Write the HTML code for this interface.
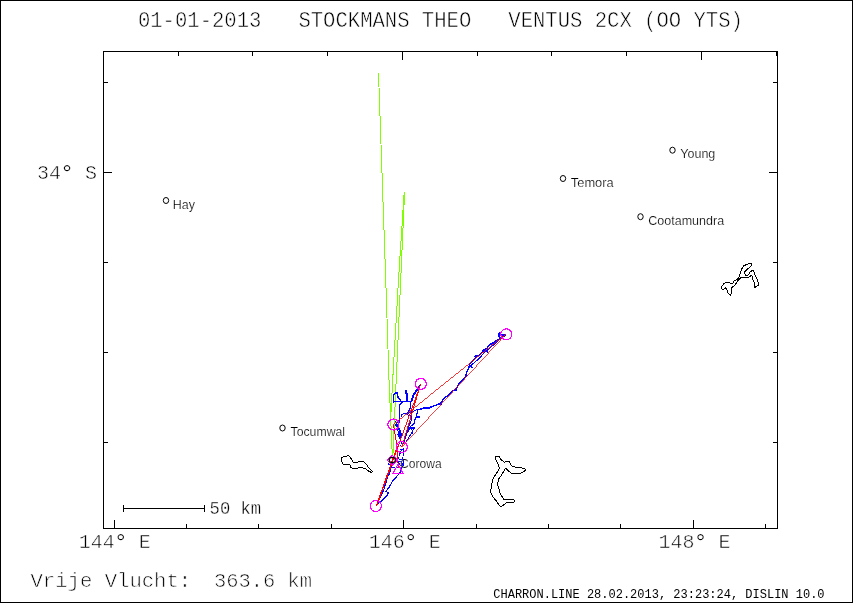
<!DOCTYPE html>
<html lang="nl">
<head>
<meta charset="utf-8">
<title>Vrije Vlucht 01-01-2013 STOCKMANS THEO</title>
<style>
html,body{margin:0;padding:0;background:#fff;}
body{width:853px;height:603px;overflow:hidden;position:relative;}
svg{position:absolute;left:0;top:0;display:block;will-change:transform;}
.mono{font-family:"Liberation Mono",monospace;fill:#000;stroke:#fff;stroke-width:.55px;}
.sans{font-family:"Liberation Sans",sans-serif;fill:#000;stroke:#fff;stroke-width:.2px;}
.k{fill:none;stroke:#000;stroke-width:1;}
.g{fill:none;stroke:#7fff00;stroke-width:1;}
.r{fill:none;stroke:#f00;stroke-width:1;}
.b{fill:none;stroke:#00f;stroke-width:1.05;stroke-linejoin:bevel;}
.m{fill:none;stroke:#f0f;stroke-width:1.2;}
</style>
</head>
<body>
<svg width="853" height="603" viewBox="0 0 853 603">
<rect x="0.5" y="0.5" width="852" height="602" fill="none" stroke="#000" stroke-width="1" shape-rendering="crispEdges"/>

<g class="k" shape-rendering="crispEdges"><path d="M103.5 51.5 H777.5 V528.5 H103.5 Z"/><path d="M114.5 528.5 v-8.5 M186.5 528.5 v-4.5 M258.5 528.5 v-4.5 M331.5 528.5 v-4.5 M403.5 528.5 v-8.5 M476.5 528.5 v-4.5 M548.5 528.5 v-4.5 M620.5 528.5 v-4.5 M693.5 528.5 v-8.5 M765.5 528.5 v-4.5 M178.5 51.5 v4.5 M252.5 51.5 v4.5 M327.5 51.5 v4.5 M402.5 51.5 v8.5 M477.5 51.5 v4.5 M551.5 51.5 v4.5 M626.5 51.5 v4.5 M701.5 51.5 v8.5 M776.5 51.5 v4.5 M103.5 82.5 h4.5 M777.5 82.5 h-4.5 M103.5 172.5 h8.5 M777.5 172.5 h-8.5 M103.5 262.5 h4.5 M777.5 262.5 h-4.5 M103.5 352.5 h4.5 M777.5 352.5 h-4.5 M103.5 442.5 h4.5 M777.5 442.5 h-4.5"/>
<path d="M123.5 508.5 H204.5 M123.5 505 V512 M204.5 505 V512"/></g>
<g class="k" shape-rendering="crispEdges" stroke-linejoin="round">
<path d="M721.1 287.2 L724 283.4 L726.2 282.4 L729.2 282.4 L730.8 283.4 L732.8 283.4 L733.4 281.5 L734.8 280.4 L737.4 279.3 L738.9 277.4 L740 274.4 L741.1 270.7 L742.2 268.1 L743.7 265.8 L747.1 264.3 L749.3 263.4 L751.7 263.4 L751.7 265.4 L750.1 266.9 L747.8 268.8 L744.9 271.4 L744.7 273.7 L745.4 275.1 L747.5 275.3 L749 274 L750.1 271.8 L752.3 270.5 L753.4 271 L754.6 273.7 L756 277 L757.7 280.4 L758.7 285.2 L756.8 286.3 L754.6 287.5 L754.2 284.9 L754.2 282.6 L752.7 278.9 L751.9 275.5 L750.8 275.9 L749 277 L744.9 277.4 L741.1 277.4 L738.9 279.6 L736.6 282.2 L735.5 284.5 L731.8 287.8 L731.4 292.3 L730.7 295.7 L727.7 292.7 L726.9 289.7 L725.4 287.5 L723.2 289.5 L722.1 289.3 Z"/>
<path d="M347.9 455.1 L350.3 457.5 L351.6 459.1 L352.7 462 L353.5 462.3 L357.7 462.3 L358.5 461.5 L362.7 461.5 L364.8 462.5 L367.2 465.4 L367.7 466.7 L372.5 471.5 L371.7 472.8 L369.6 471.5 L367.2 470.4 L365.6 468.6 L363 468.3 L362.4 467.5 L358.2 467.5 L357.7 468.6 L353.2 468.6 L350.8 467.3 L350 464.6 L343.4 464.6 L342.1 462.2 L341.2 460.4 L341.3 458.3 L342.4 457.4 L344.5 456.4 L346.9 456.2 Z"/>
<path d="M495.3 457 L497.3 456.2 L499.2 456.7 L501.5 460.3 L504.5 462.1 L506.6 461.3 L509.2 461.3 L510.7 464.4 L512.3 466.5 L515.9 467.3 L520 467.7 L524.1 468.5 L525.9 469.8 L524.1 471.6 L520 473.5 L515.9 473.1 L512 473.7 L509.2 471.6 L506.1 468.5 L505.1 468.7 L503.5 471.6 L501.5 475.2 L498.9 478.8 L497.3 484 L498.9 488.6 L500.4 494.2 L504 499.4 L513.8 499.6 L514.8 500.9 L513.8 502.5 L506.6 502.7 L503.5 505 L500.9 506.6 L499.4 505.6 L496.3 500.9 L492.7 496.8 L490.3 491.7 L491.4 488.1 L492.4 480.3 L494.3 476.7 L497.3 472.1 L499.4 468 L497.9 463.4 L495.3 458.7 Z"/>
</g>
<g class="g" shape-rendering="crispEdges">
<path d="M378.5 73 L385.75 280 L389 380 L392.3 455.5"/>
<path d="M404.6 192 L400.7 280 L396.2 380 L392.9 455.5"/>
<path d="M404.2 192 L398.5 280 L392.7 380 L390.6 420"/>
</g>
<g class="b" shape-rendering="crispEdges">
<path d="M393.5 402.7 L393.5 395.2 L394.5 394.2 L396.5 392.2 L397.5 394 L397.5 396.4 L399.4 398.9 L400.9 401.2" style="stroke-width:1.5"/>
<path d="M393.5 401.7 L411.4 401.7"/>
<path d="M407.2 401.4 L406.9 394 L405.7 393.2 L405.4 391.5 L406.4 390.2 L406.9 394" style="stroke-width:1.5"/>
<path d="M411.4 401.7 L412.9 395.4 L414.9 392.5 L416.9 389.5 L418.3 387.5 L420.3 385.7" style="stroke-width:1.4"/>
<path d="M411.9 401.7 L413.4 395.9 L415.4 393 L417.4 390 L420.3 385.7"/>
<path d="M402.4 402.2 L399.7 404.9 L399.4 413.9"/>
<path d="M410.6 401.7 L410.6 407.9 L409.4 408.9 L407.9 412.9"/>
<path d="M399.4 404 L399.4 420.4 L398.7 423.9"/>
<path d="M419.8 409.2 L418.3 409.2 L414.9 410.5 L411.4 412 L407.9 413.2 L403.9 413.7 L401.4 414.7 L401.2 416.9"/>
<path d="M418.3 408.5 L417.4 412 L416.4 415.9 L414.9 419.9 L414.9 422.9 L411.9 425.4 L409.4 427.4 L412.9 430.9 L412.4 433.9"/>
<path d="M414.9 417.2 L419.8 417.2"/>
<path d="M414.9 417.7 L418.8 417.7"/>
<path d="M408.4 427.9 L414.9 427.9"/>
<path d="M408.9 428.4 L414.4 428.4"/>
<path d="M410.9 404 L409.9 409 L408.4 412.5 L407.9 414.9 L411.9 415.9 L411.4 420.4 L409.9 423.9 L407.9 428.9 L406.9 432.9"/>
<path d="M396 420.9 L399.4 420.9 L395 424.9 L397.5 426.4 L399.4 429.9 L400.9 432.9"/>
<path d="M395.5 421.4 L398 425.9 L399.9 429.9 L399.4 432.9"/>
<path d="M395 424.9 L398.4 423.9 L398 427.4"/>
<path d="M397.5 426.4 L399.4 429.9 L400.9 432.9 L398.7 433.1 L397 427.4"/>
<path d="M415.9 416.7 L419.8 416.7"/>
<path d="M408.9 427.4 L414.9 427.4 L414.4 428.9 L408.9 428.6"/>
<path d="M506.2 334.5 L501.8 335 L499.3 332.5 L498.8 336.4 L501.3 337.9 L494.8 341.4 L492.8 343.4 L489.8 344.4 L486.8 348.4 L483.9 349.9 L481.9 352.4 L478.4 355.8 L474.4 356.3 L475.9 357.8 L470.9 362.3 L469.4 364.8 L468.9 367.3 L466.9 371.8 L465.4 376.7 L459 383.7" style="stroke-width:1.4"/>
<path d="M505.7 335 L496.8 341.9 L487.8 349.9 L487.3 352.4 L486.3 350.4 L478.9 358.8 L469.9 366.3 L472.9 367.3 L469.9 366.8"/>
<path d="M500.3 334.5 L504.8 334.5 L501.8 336.4 L500.3 335"/>
<path d="M474.4 356.3 L477.9 356.6 L475.9 358"/>
<path d="M492.3 342.9 L494.8 341.9 L493.3 343.9"/>
<path d="M483.4 349.9 L484.9 351.1 L482.4 351.7"/>
<path d="M467.7 375 L463.7 379 L459.8 382.5 L456.8 387.4 L455.3 389.9 L451.8 391.4 L447.8 395.4 L443.8 398.9 L441.8 401.4 L439.4 403.9 L432.9 406.3 L428.9 407.8 L424.9 407.8 L420 409.3" style="stroke-width:1.4"/>
<path d="M453.8 391.4 L456.8 388.9 L456.3 390.9 L454.3 389.9"/>
<path d="M436.9 404.9 L441.8 402.9 L441.8 404.9 L437.9 403.9"/>
<path d="M423.9 407.3 L429.9 407.3 L428.9 408.8 L424.9 408.3"/>
<path d="M459.3 382 L460.2 383"/>
<path d="M376.6 505.5 L383.5 490.4 L387.8 476.7 L389.6 473.2 L391.3 466.3 L392.6 462"/>
<path d="M376.6 505.5 L387.8 494.8 L388 492.2 L385.2 491.7 L388.7 487.9 L393 480.5 L399 474.1 L401.2 470.6 L402.5 466.3 L403.3 462"/>
<path d="M387.4 491.7 L388.5 493 L387.7 494.1"/>
<path d="M396.4 426 L398.9 429.5 L399.9 432 L399.4 434 L397.4 434.4 L401.9 434.7 L399.4 437.4 L400.9 440.4 L401.4 443.9"/>
<path d="M397.4 426.5 L399.9 430 L400.9 432.5 L401.4 434.9 L400.4 437.9"/>
<path d="M397.9 433.7 L401.7 433.7 L401.7 435.4 L398.4 435.4 L399.4 436.9"/>
<path d="M408.9 427.7 L414.9 427.7"/>
<path d="M414.9 428 L413.4 429.5 L411.9 432.5 L410.4 434.9 L408.9 437.4 L406.9 440.4 L405.9 441.9"/>
<path d="M409.4 429 L407.9 431.5 L406.4 434.4 L405.4 437.4 L404.4 439.9 L403.4 443.9"/>
<path d="M400.9 444.9 L399.4 446.4"/>
<path d="M400.4 449.9 L403.4 448.9 L403.4 451.9"/>
<path d="M401.4 449.9 L399.9 453.9"/>
<path d="M403.4 448.2 L403.4 450.9"/>
<path d="M403.4 453 L403.1 456.2"/>
<path d="M402.8 457.3 L402.6 459.9"/>
<path d="M399.4 453 L399.1 455.7"/>
<path d="M398.8 456.7 L398.6 459.4"/>
<path d="M388 463.6 L390.6 465.2 L388.5 464.7 L390.1 464.2"/>
<path d="M392.2 467.4 L395.4 467.4"/>
<path d="M398.6 459.9 L403.4 459.9 L403.4 465.2 L400.2 465.2 L398.6 462 L401.2 461.5 L402.3 464.2"/>
<path d="M402.3 465.2 L400.2 471.6 L398 474.8"/>
<path d="M395.9 467.4 L398 467.4"/>
</g>
<g class="r" shape-rendering="crispEdges">
<path d="M397.2 447.3 L376.5 506" style="stroke-width:1.42"/>
<path d="M376.5 506 L420.8 383.8" style="stroke-width:0.96"/>
<path d="M420.8 383.8 L401.8 447" style="stroke-width:0.98"/>
<path d="M401.8 446.9 L506 334" style="stroke-width:0.75"/>
<path d="M506 334 L393.4 424.7" style="stroke-width:0.80"/>
<path d="M393.4 424.7 L397.2 447.3" style="stroke-width:1.01"/>
<path d="M397.2 447.3 L398.3 468.5" style="stroke-width:1.02"/>
</g>
<g class="m" shape-rendering="crispEdges">
<circle cx="375.9" cy="506.0" r="5.5"/>
<circle cx="420.8" cy="383.8" r="5.5"/>
<circle cx="393.4" cy="424.5" r="5.5"/>
<circle cx="401.8" cy="447.0" r="5.5"/>
<circle cx="506.2" cy="334.3" r="5.5"/>
<path d="M387.2 460.2 L392.3 455.2 L397.5 460.2 L392.3 465.3 Z"/>
<path d="M398 464.4 L403.3 473.4 H392.8 Z"/>
</g>
<g class="k">
<ellipse cx="166.0" cy="200.5" rx="2.7" ry="3"/>
<ellipse cx="563.0" cy="178.5" rx="2.7" ry="3"/>
<ellipse cx="672.5" cy="150.2" rx="2.7" ry="3"/>
<ellipse cx="640.5" cy="216.7" rx="2.7" ry="3"/>
<ellipse cx="282.5" cy="428.0" rx="2.7" ry="3"/>
<ellipse cx="392.3" cy="460.0" rx="3.1" ry="2.6" style="stroke-width:1.15"/>
</g>
<g>
<text class="sans" x="172.8" y="208.9" font-size="12.3" textLength="22.2" lengthAdjust="spacingAndGlyphs">Hay</text>
<text class="sans" x="570.8" y="186.8" font-size="12.3" textLength="42.9" lengthAdjust="spacingAndGlyphs">Temora</text>
<text class="sans" x="680.3" y="158.0" font-size="12.3" textLength="35.0" lengthAdjust="spacingAndGlyphs">Young</text>
<text class="sans" x="648.3" y="225.2" font-size="12.3" textLength="75.8" lengthAdjust="spacingAndGlyphs">Cootamundra</text>
<text class="sans" x="290.5" y="435.6" font-size="12.3" textLength="54.6" lengthAdjust="spacingAndGlyphs">Tocumwal</text>
<text class="sans" x="400.0" y="467.6" font-size="12.3" textLength="41.6" lengthAdjust="spacingAndGlyphs">Corowa</text>
<text class="mono" x="137.9" y="27" font-size="21.5" textLength="605" lengthAdjust="spacingAndGlyphs" xml:space="preserve">01-01-2013   STOCKMANS THEO   VENTUS 2CX (OO YTS)</text>
<text class="mono" y="179" font-size="20" xml:space="preserve"><tspan x="37">34</tspan><tspan x="60" dy="1.9" font-size="23.5" style="stroke-width:.2px">°</tspan><tspan x="73" dy="-1.9"> S</tspan></text>
<text class="mono" y="548" font-size="20" xml:space="preserve"><tspan x="78.8">144</tspan><tspan x="113.8" dy="1.9" font-size="23.5" style="stroke-width:.2px">°</tspan><tspan x="126.8" dy="-1.9"> E</tspan></text>
<text class="mono" y="548" font-size="20" xml:space="preserve"><tspan x="368.8">146</tspan><tspan x="403.8" dy="1.9" font-size="23.5" style="stroke-width:.2px">°</tspan><tspan x="416.8" dy="-1.9"> E</tspan></text>
<text class="mono" y="548" font-size="20" xml:space="preserve"><tspan x="658.5">148</tspan><tspan x="693.5" dy="1.9" font-size="23.5" style="stroke-width:.2px">°</tspan><tspan x="706.5" dy="-1.9"> E</tspan></text>
<text class="mono" x="209.6" y="514" font-size="17.6" textLength="51.6" lengthAdjust="spacingAndGlyphs" style="stroke-width:.35px">50 km</text>
<text class="mono" y="587" font-size="20.8" style="stroke-width:.65px" xml:space="preserve"><tspan x="30.5" textLength="160.7" lengthAdjust="spacingAndGlyphs">Vrije Vlucht:</tspan><tspan x="189.4" textLength="122.7" lengthAdjust="spacingAndGlyphs">  363.6 km</tspan></text>
<text class="mono" x="493.3" y="598" font-size="12" style="stroke:none">CHARRON.LINE 28.02.2013, 23:23:24, DISLIN 10.0</text>
</g>
</svg>
</body>
</html>
